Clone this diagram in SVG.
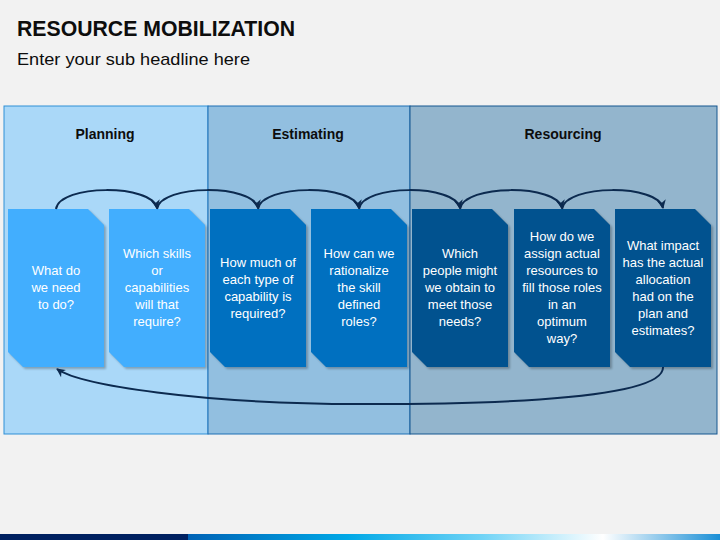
<svg xmlns="http://www.w3.org/2000/svg" width="720" height="540" viewBox="0 0 720 540">
<defs>
<style>
.title{font-family:"Liberation Sans",Arial,sans-serif;font-weight:bold;font-size:22px;fill:#0d0d0d}
.sub{font-family:"Liberation Sans",Arial,sans-serif;font-size:17px;fill:#0d0d0d}
.head{font-family:"Liberation Sans",Arial,sans-serif;font-weight:bold;font-size:14px;fill:#0d0d0d;text-anchor:middle}
.bt{font-family:"Liberation Sans",Arial,sans-serif;font-size:13px;fill:#ffffff;text-anchor:middle}
.arc{fill:none;stroke:#0c2a4f;stroke-width:2}
.shadow{fill:#000;opacity:0.25}
</style>
<marker id="ah" viewBox="0 0 10 10" refX="9" refY="5" markerWidth="9" markerHeight="9" orient="auto" markerUnits="userSpaceOnUse">
<path d="M0,0 L10,5 L0,10 L3,5 Z" fill="#0c2a4f"/>
</marker>
<linearGradient id="bar" x1="0" y1="0" x2="1" y2="0">
<stop offset="0" stop-color="#0062b5"/>
<stop offset="0.3" stop-color="#00a8e6"/>
<stop offset="0.55" stop-color="#6fd3f6"/>
<stop offset="0.78" stop-color="#ffffff"/>
<stop offset="1" stop-color="#1a8fd6"/>
</linearGradient>
<path id="box" d="M0,0 H80 L96,16 V158 H15 L0,143 Z"/>
<filter id="sh" x="-10%" y="-10%" width="130%" height="130%">
<feGaussianBlur stdDeviation="1.2"/>
</filter>
</defs>

<rect x="0" y="0" width="720" height="540" fill="#f2f2f2"/>

<g id="header">
<text class="title" x="17" y="36" textLength="278" lengthAdjust="spacingAndGlyphs">RESOURCE MOBILIZATION</text>
<text class="sub" x="17" y="65" textLength="233" lengthAdjust="spacingAndGlyphs">Enter your sub headline here</text>
</g>

<g id="panels">
<rect id="panel-planning" x="4" y="106" width="204" height="328" fill="#aad8f8" stroke="#2f8fd6" stroke-width="1"/>
<rect id="panel-estimating" x="208" y="106" width="202" height="328" fill="#92bfe0" stroke="#1c6fb4" stroke-width="1"/>
<rect id="panel-resourcing" x="410" y="106" width="307" height="328" fill="#93b5cd" stroke="#14578f" stroke-width="1"/>
<text class="head" x="105" y="139">Planning</text>
<text class="head" x="308" y="139">Estimating</text>
<text class="head" x="563" y="139">Resourcing</text>
</g>

<g id="node1">
<use href="#box" x="10" y="211" class="shadow" filter="url(#sh)"/>
<use href="#box" x="8" y="209" fill="#42aefe"/>
<text class="bt"><tspan x="56" y="275">What do</tspan><tspan x="56" y="292">we need</tspan><tspan x="56" y="309">to do?</tspan></text>
</g>
<g id="node2">
<use href="#box" x="111" y="211" class="shadow" filter="url(#sh)"/>
<use href="#box" x="109" y="209" fill="#42aefe"/>
<text class="bt"><tspan x="157" y="258">Which skills</tspan><tspan x="157" y="275">or</tspan><tspan x="157" y="292">capabilities</tspan><tspan x="157" y="309">will that</tspan><tspan x="157" y="326">require?</tspan></text>
</g>
<g id="node3">
<use href="#box" x="212" y="211" class="shadow" filter="url(#sh)"/>
<use href="#box" x="210" y="209" fill="#0070c0"/>
<text class="bt"><tspan x="258" y="267">How much of</tspan><tspan x="258" y="284">each type of</tspan><tspan x="258" y="301">capability is</tspan><tspan x="258" y="318">required?</tspan></text>
</g>
<g id="node4">
<use href="#box" x="313" y="211" class="shadow" filter="url(#sh)"/>
<use href="#box" x="311" y="209" fill="#0070c0"/>
<text class="bt"><tspan x="359" y="258">How can we</tspan><tspan x="359" y="275">rationalize</tspan><tspan x="359" y="292">the skill</tspan><tspan x="359" y="309">defined</tspan><tspan x="359" y="326">roles?</tspan></text>
</g>
<g id="node5">
<use href="#box" x="414" y="211" class="shadow" filter="url(#sh)"/>
<use href="#box" x="412" y="209" fill="#01528f"/>
<text class="bt"><tspan x="460" y="258">Which</tspan><tspan x="460" y="275">people might</tspan><tspan x="460" y="292">we obtain to</tspan><tspan x="460" y="309">meet those</tspan><tspan x="460" y="326">needs?</tspan></text>
</g>
<g id="node6">
<use href="#box" x="516" y="211" class="shadow" filter="url(#sh)"/>
<use href="#box" x="514" y="209" fill="#01528f"/>
<text class="bt"><tspan x="562" y="241">How do we</tspan><tspan x="562" y="258">assign actual</tspan><tspan x="562" y="275">resources to</tspan><tspan x="562" y="292">fill those roles</tspan><tspan x="562" y="309">in an</tspan><tspan x="562" y="326">optimum</tspan><tspan x="562" y="343">way?</tspan></text>
</g>
<g id="node7">
<use href="#box" x="617" y="211" class="shadow" filter="url(#sh)"/>
<use href="#box" x="615" y="209" fill="#01528f"/>
<text class="bt"><tspan x="663" y="250">What impact</tspan><tspan x="663" y="267">has the actual</tspan><tspan x="663" y="284">allocation</tspan><tspan x="663" y="301">had on the</tspan><tspan x="663" y="318">plan and</tspan><tspan x="663" y="335">estimates?</tspan></text>
</g>

<g id="connectors">
<path class="arc" d="M56,209 C60,184 152,184 157,208" marker-end="url(#ah)"/>
<path class="arc" d="M157,209 C161,184 253,184 258,208" marker-end="url(#ah)"/>
<path class="arc" d="M258,209 C262,184 354,184 359,208" marker-end="url(#ah)"/>
<path class="arc" d="M359,209 C363,184 455,184 460,208" marker-end="url(#ah)"/>
<path class="arc" d="M460,209 C464,184 557,184 562,208" marker-end="url(#ah)"/>
<path class="arc" d="M562,209 C566,184 658,184 663,208" marker-end="url(#ah)"/>
<path class="arc" d="M663,367 C665,405 420,404 360,404 C200,404 80,385 57,369" marker-end="url(#ah)"/>
</g>

<g id="footer">
<rect x="0" y="534" width="188" height="6" fill="#002060"/>
<rect x="188" y="534" width="532" height="6" fill="url(#bar)"/>
</g>
</svg>
